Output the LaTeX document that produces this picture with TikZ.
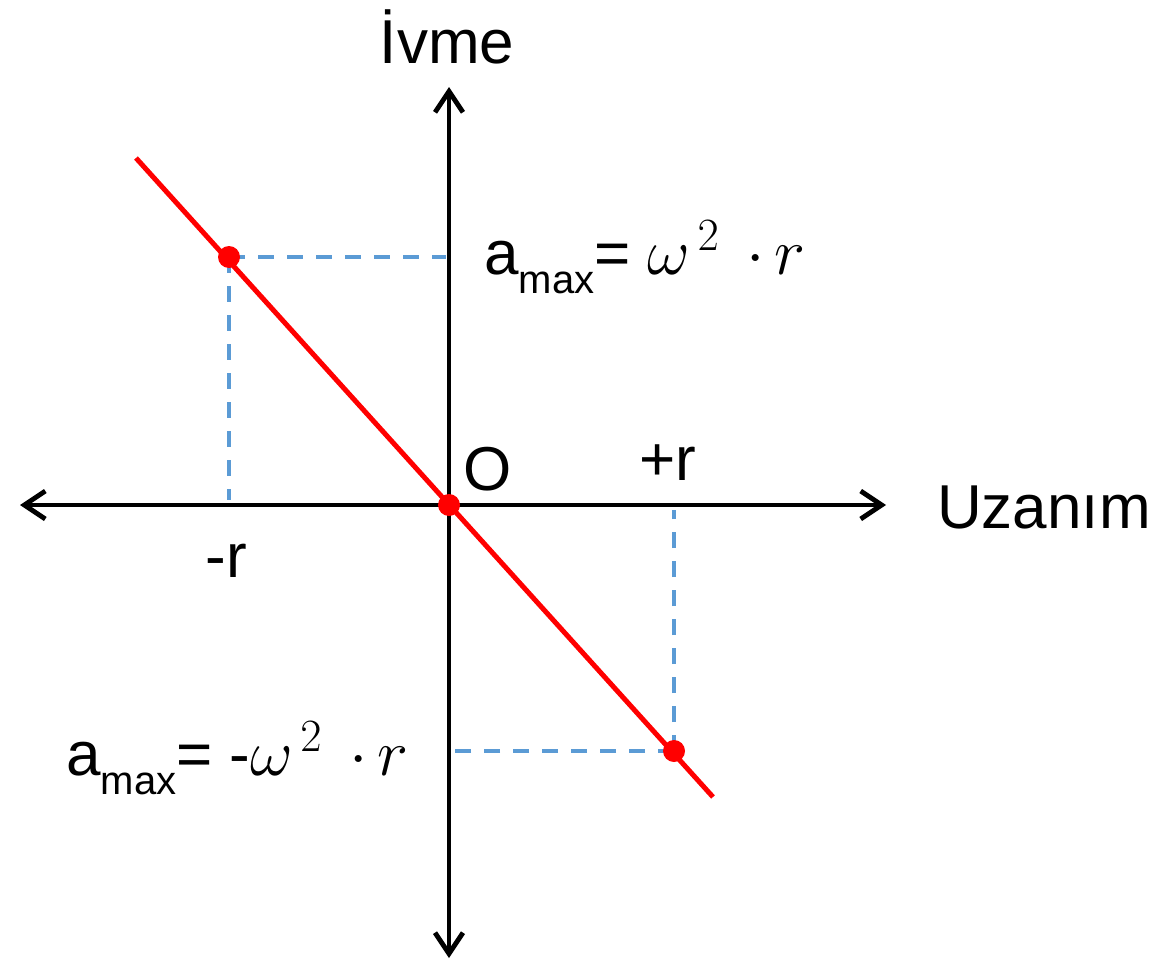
\documentclass[tikz,border=0pt]{standalone}
\usepackage{fix-cm}
\usepackage{fontspec}
\setmainfont{Liberation Sans}
\usetikzlibrary{arrows.meta}
\definecolor{dashblue}{HTML}{5B9BD5}
\definecolor{linered}{HTML}{FF0000}
\newcommand{\amaxlabel}{a\raisebox{-19pt}{\fontsize{40}{40}\selectfont max}}
\newcommand{\mathpart}{{\fontsize{66}{70}\selectfont$\omega\mkern2mu{}^{2}\mkern3.5mu\cdot\mkern-1.4mu r$}}
\begin{document}
\begin{tikzpicture}[x=1pt,y=-1pt,
  >={Straight Barb[length=21pt,width=28pt]},
  axis/.style={line width=4.8pt,<->,black},
  guide/.style={dashblue,line width=3.5pt,dash pattern=on 16pt off 13pt},
  redline/.style={linered,line width=5pt},
  reddot/.style={fill=linered},
  lbl/.style={inner sep=0pt,font=\fontsize{62}{70}\selectfont}]
\useasboundingbox (0,0) rectangle (1176,961);
% coordinates
\coordinate (ytop) at (449,87);
\coordinate (ybot) at (449,958);
\coordinate (xl) at (20,505);
\coordinate (xr) at (886,505);
\coordinate (rs) at (136,158);
\coordinate (re) at (713,797);
\coordinate (P1) at (229,257);
\coordinate (P0) at (449,505);
\coordinate (P2) at (674,751);
\coordinate (g1) at (446,257);
\coordinate (g2) at (229,500);
\coordinate (g3) at (674,510);
\coordinate (g4) at (452,751);
% guides
\draw[guide] (P1) -- (g1);
\draw[guide] (P1) -- (g2);
\draw[guide] (P2) -- (g3);
\draw[guide] (P2) -- (g4);
% axes
\draw[axis] (ybot) -- (ytop);
\draw[axis] (xl) -- (xr);
% red line
\draw[redline] (rs) -- (re);
\fill[reddot] (P1) circle (11pt);
\fill[reddot] (P0) circle (11pt);
\fill[reddot] (P2) circle (11pt);
% labels
\node[lbl,anchor=base] (ivme) at (447,63) {İvme};
\node[lbl,anchor=base west] (uzanim) at (937,528) {Uzanım};
\node[lbl,anchor=base] (olbl) at (488,490) {O};
\node[lbl,anchor=base] (rplus) at (668,480) {+r};
\node[lbl,anchor=base] (rminus) at (226,577) {-r};
\node[lbl,anchor=base west] (amaxtop) at (484,274) {\amaxlabel= \mathpart};
\node[lbl,anchor=base west] (amaxbot) at (66,775) {\amaxlabel= -\mathpart};
\end{tikzpicture}
\end{document}
